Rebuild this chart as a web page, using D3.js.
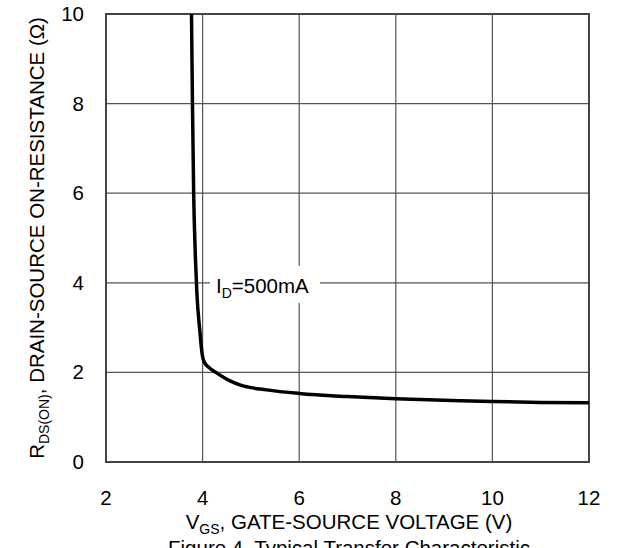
<!DOCTYPE html>
<html>
<head>
<meta charset="utf-8">
<script src="https://cdn.jsdelivr.net/npm/d3@7"></script>
<style>
  body { margin: 0; background: #fff; }
  text { font-family: "Liberation Sans", Arial, sans-serif; fill: #000; }
</style>
</head>
<body>
<svg id="chart" width="620" height="548"></svg>
<script>
// R_DS(on) vs V_GS, I_D = 500mA
const vgs = [3.77, 3.79, 3.815, 3.85, 3.88, 3.945, 3.975, 4.0, 4.04, 4.12, 4.29, 4.57, 4.77, 5.33, 6.0, 7.0, 8.0, 9.0, 10.0, 11.0, 12.0];
const rds = [10, 8, 6, 4.6, 3.8, 2.9, 2.55, 2.35, 2.22, 2.12, 1.99, 1.81, 1.72, 1.61, 1.53, 1.46, 1.41, 1.38, 1.35, 1.33, 1.32];
const xTicks = [2, 4, 6, 8, 10, 12];
const yTicks = [0, 2, 4, 6, 8, 10];

const SIZE = { left: 106, top: 14, right: 589, bottom: 462 };
const FS = 20.5;

const svg = d3.select("#chart");

const x = d3.scaleLinear().domain([2, 12]).range([SIZE.left, SIZE.right]);
const y = d3.scaleLinear().domain([0, 10]).range([SIZE.bottom, SIZE.top]);

const g = svg.append("g");

// grid
g.selectAll(".vgrid")
  .data(xTicks.slice(1, -1))
  .join("line")
  .attr("x1", d => x(d)).attr("x2", d => x(d))
  .attr("y1", SIZE.top).attr("y2", SIZE.bottom)
  .attr("stroke", "#555").attr("stroke-width", 1.2);

g.selectAll(".hgrid")
  .data(yTicks.slice(1, -1))
  .join("line")
  .attr("x1", SIZE.left).attr("x2", SIZE.right)
  .attr("y1", d => y(d)).attr("y2", d => y(d))
  .attr("stroke", "#555").attr("stroke-width", 1.2);

// frame
g.append("rect")
  .attr("x", SIZE.left).attr("y", SIZE.top)
  .attr("width", SIZE.right - SIZE.left)
  .attr("height", SIZE.bottom - SIZE.top)
  .attr("fill", "none")
  .attr("stroke", "#444").attr("stroke-width", 2);

// label box (hides grid behind the text)
g.append("rect")
  .attr("x", 210).attr("y", 266)
  .attr("width", 110).attr("height", 37)
  .attr("fill", "#fff");

// curve
const line = d3.line()
  .x(d => x(d[0]))
  .y(d => y(d[1]))
  .curve(d3.curveMonotoneX);

g.append("path")
  .datum(vgs.map((v, i) => [v, rds[i]]))
  .attr("d", line)
  .attr("fill", "none")
  .attr("stroke", "#000")
  .attr("stroke-width", 3.5)
  .attr("stroke-linejoin", "round");

// tick labels
g.selectAll(".xt")
  .data(xTicks)
  .join("text")
  .attr("x", d => x(d)).attr("y", 505)
  .attr("text-anchor", "middle")
  .style("font-size", FS + "px")
  .text(d => d);

g.selectAll(".yt")
  .data(yTicks)
  .join("text")
  .attr("x", 84).attr("y", d => y(d) + 7)
  .attr("text-anchor", "end")
  .style("font-size", FS + "px")
  .text(d => d);

// annotation
const ann = g.append("text")
  .attr("x", 216).attr("y", 293)
  .style("font-size", FS + "px");
ann.append("tspan").text("I");
ann.append("tspan").attr("dy", 5).style("font-size", "14px").text("D");
ann.append("tspan").attr("dy", -5).text("=500mA");

// x axis title
const xt = g.append("text")
  .attr("x", 349).attr("y", 529)
  .attr("text-anchor", "middle")
  .style("font-size", FS + "px");
xt.append("tspan").text("V");
xt.append("tspan").attr("dy", 5).style("font-size", "14px").text("GS");
xt.append("tspan").attr("dy", -5).text(", GATE-SOURCE VOLTAGE (V)");

// y axis title
const yt = g.append("text")
  .attr("transform", "translate(44," + ((SIZE.top + SIZE.bottom) / 2) + ") rotate(-90)")
  .attr("text-anchor", "middle")
  .style("font-size", FS + "px");
yt.append("tspan").text("R");
yt.append("tspan").attr("dy", 5).style("font-size", "14px").text("DS(ON)");
yt.append("tspan").attr("dy", -5).text(", DRAIN-SOURCE ON-RESISTANCE (Ω)");

// caption (cut by the bottom edge)
g.append("text")
  .attr("x", 349).attr("y", 555)
  .attr("text-anchor", "middle")
  .style("font-size", FS + "px")
  .text("Figure 4. Typical Transfer Characteristic");
</script>
</body>
</html>
